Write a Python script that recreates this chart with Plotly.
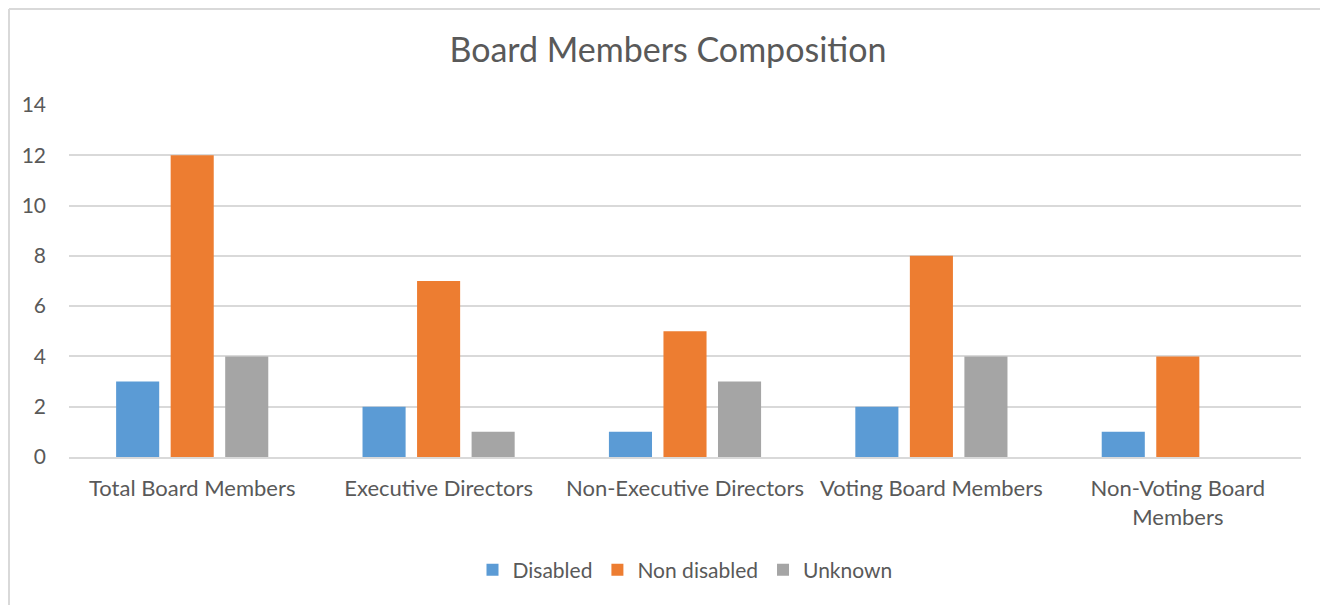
import plotly.graph_objects as go

categories = [
    "Total Board Members",
    "Executive Directors",
    "Non-Executive Directors",
    "Voting Board Members",
    "Non-Voting Board<br>Members",
]
disabled = [3, 2, 1, 2, 1]
non_disabled = [12, 7, 5, 8, 4]
unknown = [4, 1, 3, 4, 0]

# page puts the plot div 8px in from the top-left corner
W, H = 1320, 597
ML, MR, MT, MB = 61, 27, 97, 148
PW = W - ML - MR
PH = H - MT - MB

FONT = "Lato"
TXT = "#595959"
GRID = "#d9d9d9"

fig = go.Figure()
for name, vals, color in [
    ("Disabled", disabled, "#5B9BD5"),
    ("Non disabled", non_disabled, "#ED7D31"),
    ("Unknown", unknown, "#A5A5A5"),
]:
    fig.add_trace(go.Bar(x=categories, y=vals, name=name, marker=dict(color=color, line=dict(width=0))))


def px_x(x):
    return (x - ML) / PW


def px_y(y):
    return (H - MB - y) / PH


# chart frame: only top and left edges are visible in the crop
fig.add_shape(type="line", xref="paper", yref="paper",
              x0=px_x(1), x1=px_x(W + 5), y0=px_y(1), y1=px_y(1),
              line=dict(color=GRID, width=2), layer="below")
fig.add_shape(type="line", xref="paper", yref="paper",
              x0=px_x(1), x1=px_x(1), y0=px_y(1), y1=px_y(H + 5),
              line=dict(color=GRID, width=2), layer="below")

fig.update_layout(
    width=W, height=H,
    margin=dict(l=ML, r=MR, t=MT, b=MB),
    paper_bgcolor="white", plot_bgcolor="white",
    font=dict(family=FONT, color=TXT, size=22),
    title=dict(text="Board Members Composition", x=0.5, xanchor="center",
               y=1 - 42 / H, yanchor="middle", font=dict(size=34, color=TXT)),
    barmode="group", bargap=0.336, bargroupgap=0.21,
    showlegend=True,
    legend=dict(orientation="h", x=0.5, xanchor="center", y=px_y(562), yanchor="middle",
                font=dict(size=21, color=TXT), itemwidth=30),
    xaxis=dict(showgrid=False, showline=True, linecolor=GRID, linewidth=2,
               ticks="", ticklabelstandoff=11, tickfont=dict(size=22, color=TXT)),
    yaxis=dict(range=[0, 14], dtick=2, showgrid=True, gridcolor=GRID, gridwidth=1.5,
               zeroline=False, showline=False, ticks="", ticklabelstandoff=22,
               tickfont=dict(size=21, color=TXT)),
)

fig.write_html("out.html")
